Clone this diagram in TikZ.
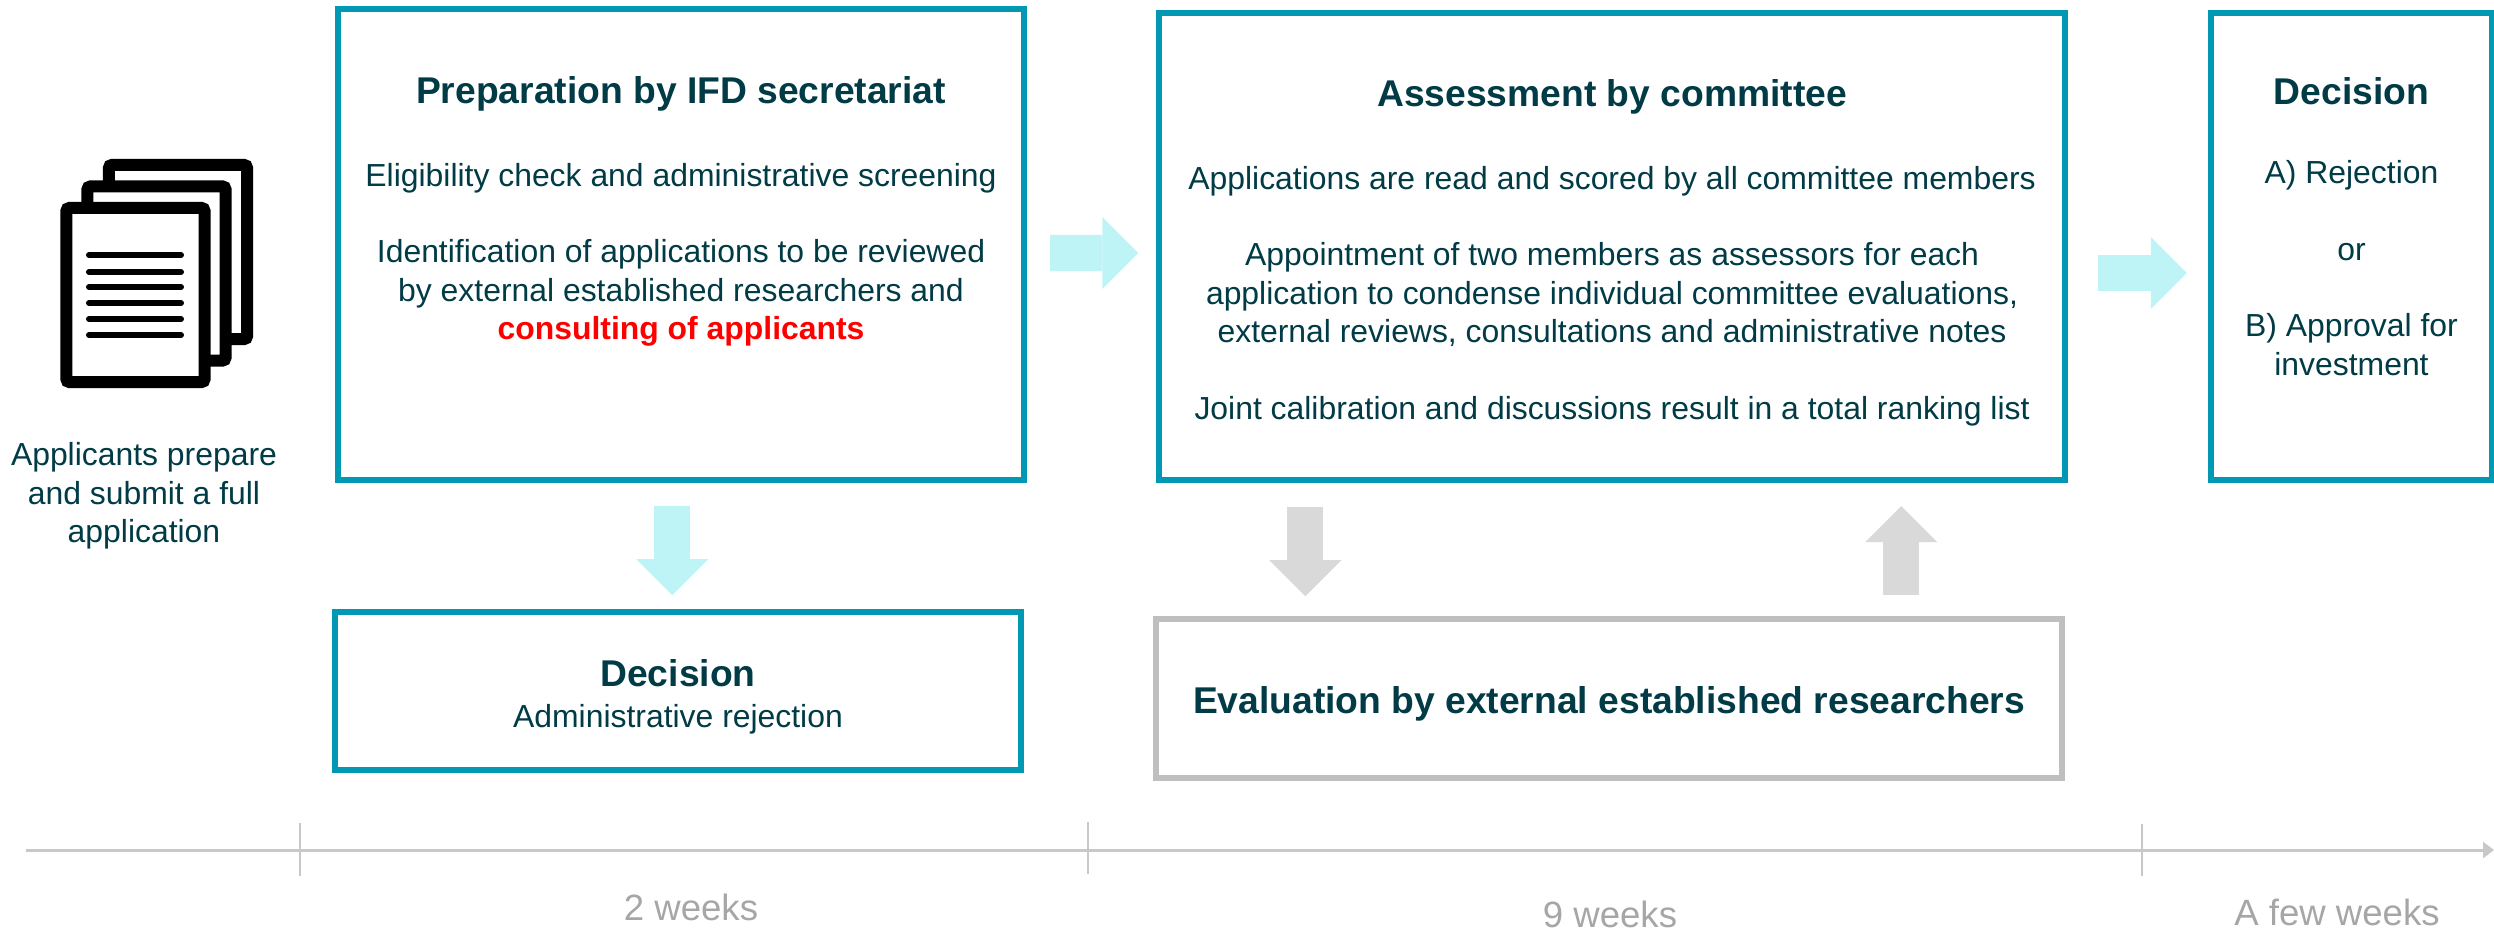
\documentclass[tikz,border=0pt]{standalone}
\usepackage{fontspec}
\setmainfont{Liberation Sans}
\usetikzlibrary{arrows.meta}
\definecolor{inkteal}{HTML}{003B46}
\definecolor{boxteal}{HTML}{0098B3}
\definecolor{paleteal}{HTML}{BFF4F6}
\definecolor{greyarrow}{HTML}{D9D9D9}
\definecolor{greybox}{HTML}{BFBFBF}
\definecolor{axisgrey}{HTML}{C8C8C8}
\definecolor{weekgrey}{HTML}{A6A6A6}
\newcommand{\bodyfont}{\fontsize{9.07}{10.95}\selectfont}
\newcommand{\headfont}{\fontsize{10.59}{12}\bfseries\selectfont}
\tikzstyle{boxes} = [rectangle, line width=0.06cm, draw=boxteal, fill=white]
\tikzstyle{greyboxes} = [boxes, draw=greybox]
\tikzstyle{boxtext} = [align=center, inner sep=0pt, text=inkteal, font=\bodyfont]
\tikzstyle{weeks} = [inner sep=0pt, text=weekgrey, font=\fontsize{10.4}{12}\selectfont]
\tikzstyle{sheet} = [rectangle, rounded corners=0.03cm, line width=0.12cm, draw=black, fill=white, minimum width=1.38cm, minimum height=1.74cm]
\tikzstyle{sheetline} = [line width=0.06cm, line cap=round, black]
\tikzstyle{flow} = [line width=0.36cm, paleteal, -{Triangle[length=0.36cm, width=0.72cm, line width=0pt]}]
\tikzstyle{greyflow} = [flow, greyarrow]

\begin{document}
\begin{tikzpicture}[x=0.01cm, y=-0.01cm]

    \useasboundingbox (0,0) rectangle (2494,928);

    \node (back) [sheet] at (178,252) {};

    \node (middle) [sheet, below of=back, xshift=-0.215cm, yshift=0.785cm] {};

    \node (front) [sheet, below of=middle, xshift=-0.21cm, yshift=0.785cm] {};

    \draw[sheetline] (89,255) -- (181,255);
    \draw[sheetline] (89,272) -- (181,272);
    \draw[sheetline] (89,287) -- (181,287);
    \draw[sheetline] (89,303) -- (181,303);
    \draw[sheetline] (89,319) -- (181,319);
    \draw[sheetline] (89,335) -- (181,335);

    \node (applicants) [boxtext, below of=front, xshift=0.085cm, yshift=-1.01cm] {Applicants prepare\\and submit a full\\application};

    \node (prep) [boxes, minimum width=6.86cm, minimum height=4.71cm] at (681,244.5) {};

    \node (assess) [boxes, minimum width=9.05cm, minimum height=4.67cm, right of=prep, xshift=8.305cm, yshift=-0.02cm] {};

    \node (final) [boxes, minimum width=2.81cm, minimum height=4.67cm, right of=assess, xshift=6.39cm] {};

    \node (reject) [boxes, minimum width=6.85cm, minimum height=1.58cm, below of=prep, xshift=-0.03cm, yshift=-3.465cm] {};

    \node (external) [greyboxes, minimum width=9.05cm, minimum height=1.59cm, below of=assess, xshift=-0.03cm, yshift=-3.52cm] {};

    \node (preptext) [boxtext, below of=prep, yshift=1.33cm] {{\headfont Preparation by IFD secretariat}\\[12.66pt]
        Eligibility check and administrative screening\\[10.8pt]
        Identification of applications to be reviewed\\by external established researchers and\\
        {\color{red}\bfseries consulting of applicants}};

    \node (assesstext) [boxtext, below of=assess, yshift=0.94cm] {{\headfont Assessment by committee}\\[12.75pt]
        Applications are read and scored by all committee members\\[10.8pt]
        Appointment of two members as assessors for each\\application to condense individual committee evaluations,\\external reviews, consultations and administrative notes\\[10.8pt]
        Joint calibration and discussions result in a total ranking list};

    \node (finaltext) [boxtext, below of=final, yshift=1.2cm] {{\headfont Decision}\\[11.6pt]
        A) Rejection\\[10.8pt]
        or\\[10.8pt]
        B) Approval for\\investment};

    \node (rejecttext) [boxtext, below of=reject, yshift=0.944cm] {{\headfont Decision}\\[0.45pt]Administrative rejection};

    \node (externaltext) [boxtext, below of=external, yshift=0.95cm] {\headfont Evaluation by external established researchers};

    \draw[flow, shorten <=0.23cm, shorten >=0.18cm] ([yshift=-0.085cm]prep.east) -- ([yshift=-0.065cm]assess.west);
    \draw[flow, shorten <=0.30cm, shorten >=0.21cm] ([yshift=-0.265cm]assess.east) -- ([yshift=-0.265cm]final.west);
    \draw[flow, shorten <=0.23cm, shorten >=0.14cm] ([xshift=-0.086cm]prep.south) -- ([xshift=-0.056cm]reject.north);
    \draw[greyflow, shorten <=0.24cm, shorten >=0.20cm] ([xshift=-3.065cm]assess.south) -- ([xshift=-3.035cm]external.north);
    \draw[greyflow, shorten <=0.21cm, shorten >=0.23cm] ([xshift=2.92cm]external.north) -- ([xshift=2.89cm]assess.south);

    \coordinate (axisstart) at (26,850);
    \coordinate (axisend) at (2494,850);

    \draw[axisgrey, line width=0.03cm, -{Triangle[length=0.11cm, width=0.16cm]}] (axisstart) -- (axisend);

    \draw[axisgrey, line width=0.015cm] (300,823) -- (300,876);
    \draw[axisgrey, line width=0.015cm] (1088,822) -- (1088,874);
    \draw[axisgrey, line width=0.015cm] (2142,824) -- (2142,876);

    \node (twoweeks) [weeks, anchor=base] at (691,920) {2 weeks};

    \node (nineweeks) [weeks, anchor=base] at (1610,927) {9 weeks};

    \node (fewweeks) [weeks, anchor=base] at (2337,925) {A few weeks};

\end{tikzpicture}
\end{document}
